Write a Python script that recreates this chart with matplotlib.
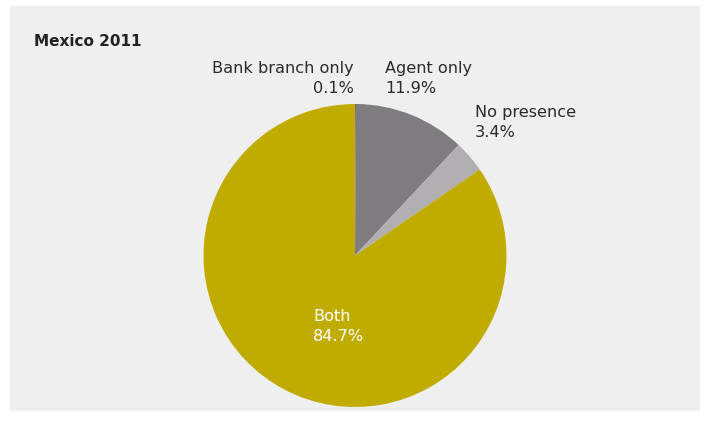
import matplotlib.pyplot as plt
from matplotlib.patches import Rectangle

labels = ["Bank branch only", "Agent only", "No presence", "Both"]
shares = [0.1, 11.9, 3.4, 84.7]
colors = ["#6e6b70", "#7f7c80", "#b1afb1", "#c0ac00"]

W, H = 706, 425
fig = plt.figure(figsize=(W / 100, H / 100), dpi=100)
fig.patch.set_facecolor("white")
ax = fig.add_axes([0, 0, 1, 1])

# grey panel behind the chart
ax.add_patch(Rectangle((10, H - 411), 690, 405, facecolor="#efefef", edgecolor="none", zorder=0))

ax.pie(shares, colors=colors, startangle=90, counterclock=False,
       center=(355, H - 255.5), radius=151.5,
       wedgeprops=dict(linewidth=0, zorder=2))

ax.set_xlim(0, W)
ax.set_ylim(0, H)
ax.set_aspect("equal")
ax.axis("off")

ax.text(34, H - 41, "Mexico 2011", fontsize=11, fontweight="bold", color="#222222",
        va="center", ha="left")

fs = 11.6
tc = "#2a2a2a"
ls = 1.4
ax.text(354, H - 61, f"{labels[0]}\n{shares[0]}%", fontsize=fs, color=tc,
        ha="right", va="top", multialignment="right", linespacing=ls)
ax.text(385, H - 61, f"{labels[1]}\n{shares[1]}%", fontsize=fs, color=tc,
        ha="left", va="top", multialignment="left", linespacing=ls)
ax.text(475, H - 105, f"{labels[2]}\n{shares[2]}%", fontsize=fs, color=tc,
        ha="left", va="top", multialignment="left", linespacing=ls)
ax.text(313, H - 309, f"{labels[3]}\n{shares[3]}%", fontsize=fs, color="white",
        ha="left", va="top", multialignment="left", linespacing=ls, zorder=3)

fig.savefig("out.png", dpi=100)
